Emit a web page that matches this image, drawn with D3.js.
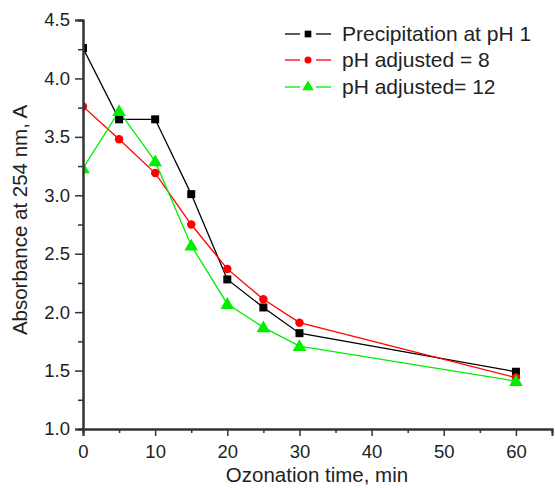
<!DOCTYPE html>
<html><head><meta charset="utf-8">
<script src="https://cdn.jsdelivr.net/npm/d3@7"></script>
<style>body{margin:0;background:#fff}svg{display:block;font-family:"Liberation Sans",Arial,sans-serif}</style>
</head><body><svg id="c" width="555" height="488"></svg>
<script>
const times = [0, 5, 10, 15, 20, 25, 30, 60];
const seriesNames = ["Precipitation at pH 1", "pH adjusted = 8", "pH adjusted= 12"];
const precipitationPH1 = [4.26, 3.65, 3.65, 3.01, 2.28, 2.04, 1.82, 1.49];
const adjustedPH8 = [3.76, 3.48, 3.19, 2.75, 2.37, 2.11, 1.91, 1.44];
const adjustedPH12 = [3.23, 3.72, 3.29, 2.57, 2.07, 1.87, 1.71, 1.41];
const xTicks = [0, 10, 20, 30, 40, 50, 60];
const yTicks = [1.0, 1.5, 2.0, 2.5, 3.0, 3.5, 4.0, 4.5];

const colors = ["#000000", "#ff0000", "#00ee00"];
const symbols = [d3.symbolSquare, d3.symbolCircle, d3.symbolTriangle];
const symSizes = [64, 56, 80];
const allSeries = [precipitationPH1, adjustedPH8, adjustedPH12];

const svg = d3.select("#c");
const x = d3.scaleLinear().domain([0, 65]).range([83, 552]);
const y = d3.scaleLinear().domain([1, 4.5]).range([429, 20]);

svg.append("clipPath").attr("id","clip").append("rect")
  .attr("x",83).attr("y",0).attr("width",555-83).attr("height",429);

const g = svg.append("g").attr("clip-path","url(#clip)");
const line = d3.line().x((d,i)=>x(times[i])).y(d=>y(d));
allSeries.forEach((s,k)=>{
  g.append("path").datum(s).attr("d",line).attr("fill","none")
   .attr("stroke",colors[k]).attr("stroke-width",1.3);
});
allSeries.forEach((s,k)=>{
  g.selectAll(null).data(s).enter().append("path")
   .attr("d", d3.symbol().type(symbols[k]).size(symSizes[k]))
   .attr("transform",(d,i)=>`translate(${x(times[i])},${y(d) + (k===2?1:0)})`)
   .attr("fill",colors[k]);
});

const axCol = "#333";
const fontFam = "Liberation Sans, Arial, sans-serif";
const xMinor = d3.range(5, 65, 10);
const xa = svg.append("g").attr("transform","translate(0,429)");
xa.call(d3.axisBottom(x).tickValues(xTicks).tickSize(7).tickFormat(d3.format("d")));
xa.append("g").call(d3.axisBottom(x).tickValues(xMinor).tickSize(4).tickFormat(""));
xa.selectAll("path.domain").attr("stroke",axCol).attr("stroke-width",2);
xa.selectAll("line").attr("stroke",axCol).attr("stroke-width",1.5);
xa.selectAll("text").attr("font-size",18.5).attr("fill","#222").attr("y",23).attr("dy","0.35em")
  .style("font-family",fontFam);

const yMinor = d3.range(1.25, 4.5, 0.5);
const ya = svg.append("g").attr("transform","translate(83,0)");
ya.call(d3.axisLeft(y).tickValues(yTicks).tickSize(8).tickFormat(d3.format(".1f")));
ya.append("g").call(d3.axisLeft(y).tickValues(yMinor).tickSize(5).tickFormat(""));
ya.selectAll("path.domain").attr("stroke",axCol).attr("stroke-width",2);
ya.selectAll("line").attr("stroke",axCol).attr("stroke-width",1.5);
ya.selectAll("text").attr("font-size",18.5).attr("fill","#222").attr("x",-13)
  .style("font-family",fontFam);

svg.append("text").attr("x",317).attr("y",482).attr("text-anchor","middle")
  .attr("font-size",20.5).attr("fill","#222").text("Ozonation time, min");
svg.append("text").attr("transform","translate(27,220) rotate(-90)").attr("text-anchor","middle")
  .attr("font-size",20.5).attr("fill","#222").text("Absorbance at 254 nm, A");

const leg = svg.append("g");
seriesNames.forEach((n,k)=>{
  const cy = [34, 60, 87][k];
  leg.append("line").attr("x1",285).attr("x2",300).attr("y1",cy).attr("y2",cy).attr("stroke",colors[k]).attr("stroke-width",1.3);
  leg.append("line").attr("x1",316).attr("x2",331).attr("y1",cy).attr("y2",cy).attr("stroke",colors[k]).attr("stroke-width",1.3);
  leg.append("path").attr("d",d3.symbol().type(symbols[k]).size(symSizes[k]*0.7))
    .attr("transform",`translate(308,${cy})`).attr("fill",colors[k]);
  leg.append("text").attr("x",342).attr("y",cy).attr("dy","0.35em").attr("font-size",21)
    .attr("fill","#222").text(n);
});
</script></body></html>
